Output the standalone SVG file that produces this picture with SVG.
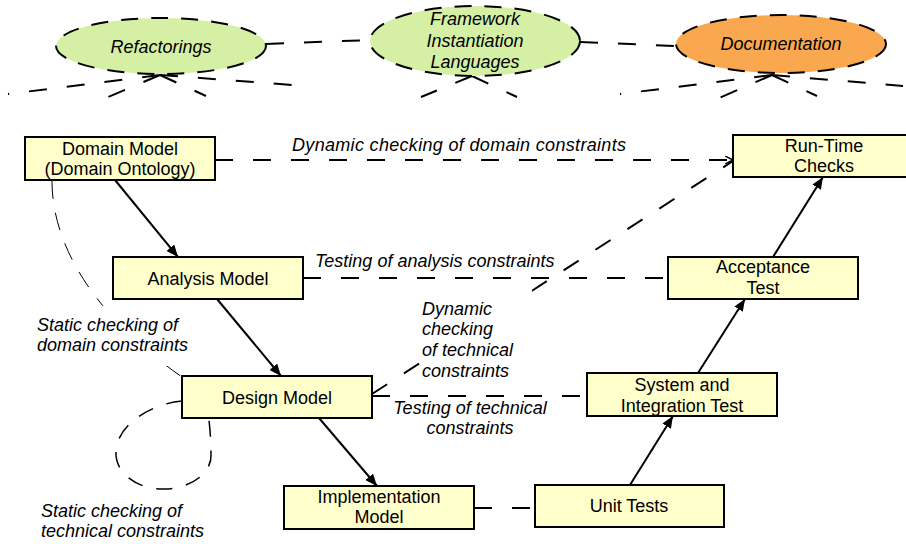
<svg xmlns="http://www.w3.org/2000/svg" width="906" height="544" viewBox="0 0 906 544">
<defs>
<style>
.box{fill:#FFFFCC;stroke:#000;stroke-width:2}
.ell{stroke:#000;stroke-width:2;stroke-dasharray:17 13}
.t{font-family:"Liberation Sans",Arial,sans-serif;font-size:18px;fill:#000}
.c{text-anchor:middle}
.i{font-style:italic}
.solid{stroke:#000;stroke-width:2;fill:none}
.dash{stroke:#000;stroke-width:2;fill:none;stroke-dasharray:18 20}
.thin{stroke:#000;stroke-width:1;fill:none;stroke-dasharray:18 14}
.loop{stroke:#000;stroke-width:1.5;fill:none;stroke-dasharray:16 14}
</style>
<marker id="arr" viewBox="0 0 12 10" refX="12" refY="5" markerWidth="12" markerHeight="10" markerUnits="userSpaceOnUse" orient="auto">
<path d="M0,0 L12,5 L0,10 z" fill="#000"/>
</marker>
<marker id="open" viewBox="0 0 8 8" refX="8" refY="4" markerWidth="8" markerHeight="8" markerUnits="userSpaceOnUse" orient="auto">
<path d="M0,0 L8,4 L0,8" fill="none" stroke="#000" stroke-width="1.5"/>
</marker>
</defs>
<rect width="906" height="544" fill="#fff"/>

<g id="connectors">
<line class="dash" x1="266" y1="44" x2="370" y2="40"/>
<line class="dash" x1="580" y1="42" x2="676" y2="46"/>
<line class="dash" x1="160" y1="75" x2="8" y2="94"/>
<line class="dash" x1="160" y1="75" x2="293" y2="85"/>
<line class="dash" x1="160" y1="75" x2="108" y2="97" stroke-dasharray="10 14"/>
<line class="dash" x1="160" y1="75" x2="206" y2="96" stroke-dasharray="10 14"/>
<line class="dash" x1="472" y1="76" x2="421" y2="97" stroke-dasharray="4 24 30"/>
<line class="dash" x1="472" y1="76" x2="517" y2="97" stroke-dasharray="4 24 30"/>
<line class="dash" x1="772" y1="75" x2="620" y2="94"/>
<line class="dash" x1="772" y1="75" x2="903" y2="86"/>
<line class="dash" x1="772" y1="75" x2="719" y2="98" stroke-dasharray="10 14"/>
<line class="dash" x1="772" y1="75" x2="817" y2="96" stroke-dasharray="10 14"/>

<line class="solid" x1="115" y1="180" x2="178" y2="257" marker-end="url(#arr)"/>
<line class="solid" x1="217" y1="299" x2="281" y2="376" marker-end="url(#arr)"/>
<line class="solid" x1="319" y1="418" x2="377" y2="486" marker-end="url(#arr)"/>
<line class="solid" x1="630" y1="485" x2="673" y2="416" marker-end="url(#arr)"/>
<line class="solid" x1="698" y1="373" x2="745" y2="299" marker-end="url(#arr)"/>
<line class="solid" x1="773" y1="257" x2="823" y2="177" marker-end="url(#arr)"/>

<line class="dash" x1="215" y1="160" x2="733" y2="160" marker-end="url(#open)"/>
<line class="dash" x1="372" y1="394" x2="733" y2="161"/>
<rect x="421" y="290" width="111" height="90" fill="#fff"/>
<line class="dash" x1="303" y1="278" x2="668" y2="278"/>
<line class="dash" x1="372" y1="396" x2="587" y2="396"/>
<line class="dash" x1="474" y1="508" x2="535" y2="508"/>

<path class="thin" d="M52,181 C52,250 100,320 182,377"/>
<rect x="88" y="306" width="84" height="60" fill="#fff"/>
<path class="loop" d="M182,401 C150,404 118,425 116,450 C114,475 140,490 165,489 C195,488 212,470 211,455 C211,440 210,430 209,420"/>
</g>

<g id="refactorings">
<ellipse class="ell" cx="161" cy="46" rx="105" ry="28" fill="#D5F0A5"/>
<text class="t c i" x="161" y="53">Refactorings</text>
</g>
<g id="framework">
<ellipse class="ell" cx="475" cy="41" rx="105" ry="35" fill="#D5F0A5"/>
<text class="t c i" x="475" y="25">Framework</text>
<text class="t c i" x="475" y="47">Instantiation</text>
<text class="t c i" x="475" y="68">Languages</text>
</g>
<g id="documentation">
<ellipse class="ell" cx="781" cy="44" rx="105" ry="29" fill="#F9A84F"/>
<text class="t c i" x="781" y="50">Documentation</text>
</g>

<g id="domain-model">
<rect class="box" x="25" y="137" width="190" height="43"/>
<text class="t c" x="120" y="155">Domain Model</text>
<text class="t c" x="120" y="175">(Domain Ontology)</text>
</g>
<g id="analysis-model">
<rect class="box" x="113" y="257" width="190" height="42"/>
<text class="t c" x="208" y="285">Analysis Model</text>
</g>
<g id="design-model">
<rect class="box" x="182" y="376" width="190" height="42"/>
<text class="t c" x="277" y="404">Design Model</text>
</g>
<g id="implementation-model">
<rect class="box" x="284" y="486" width="190" height="43"/>
<text class="t c" x="379" y="503">Implementation</text>
<text class="t c" x="379" y="523">Model</text>
</g>
<g id="unit-tests">
<rect class="box" x="535" y="485" width="189" height="42"/>
<text class="t c" x="629" y="512">Unit Tests</text>
</g>
<g id="system-test">
<rect class="box" x="587" y="373" width="190" height="43"/>
<text class="t c" x="682" y="391">System and</text>
<text class="t c" x="682" y="412">Integration Test</text>
</g>
<g id="acceptance-test">
<rect class="box" x="668" y="257" width="190" height="42"/>
<text class="t c" x="763" y="273">Acceptance</text>
<text class="t c" x="763" y="294">Test</text>
</g>
<g id="run-time-checks">
<rect class="box" x="733" y="135" width="190" height="42"/>
<text class="t c" x="824" y="152">Run-Time</text>
<text class="t c" x="824" y="172">Checks</text>
</g>

<g id="labels">
<text class="t i" x="292" y="151" textLength="334">Dynamic checking of domain constraints</text>
<text class="t i" x="315" y="267">Testing of analysis constraints</text>
<text class="t i" x="422" y="315">Dynamic</text>
<text class="t i" x="422" y="335">checking</text>
<text class="t i" x="422" y="356">of technical</text>
<text class="t i" x="422" y="377">constraints</text>
<text class="t c i" x="470" y="414">Testing of technical</text>
<text class="t c i" x="470" y="434">constraints</text>
<text class="t i" x="37" y="331">Static checking of</text>
<text class="t i" x="37" y="351">domain constraints</text>
<text class="t i" x="41" y="517">Static checking of</text>
<text class="t i" x="41" y="537">technical constraints</text>
</g>
</svg>
